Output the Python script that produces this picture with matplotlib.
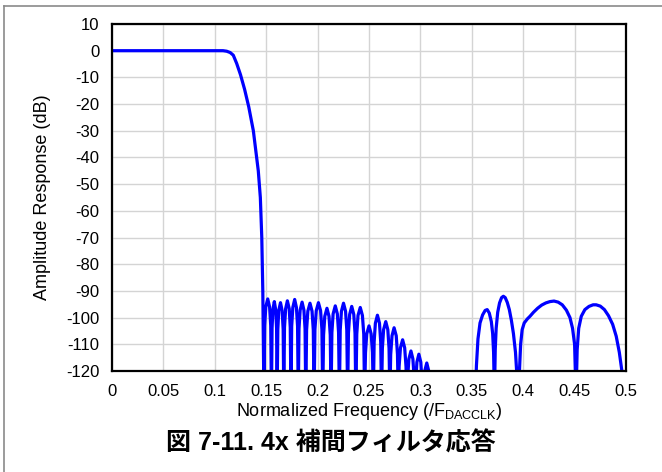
import matplotlib
matplotlib.use("Agg")
import matplotlib.pyplot as plt
from matplotlib.lines import Line2D

plt.rcParams['font.family'] = ['Liberation Sans', 'Noto Sans CJK JP']
plt.rcParams['mathtext.fontset'] = 'custom'
plt.rcParams['mathtext.rm'] = 'Liberation Sans'

# ---- data ----
# passband and transition band
pass_f = [0.0, 0.05, 0.10, 0.108, 0.1116, 0.115, 0.118, 0.1213, 0.1250, 0.1290,
          0.1330, 0.1375, 0.1423, 0.1443, 0.1457, 0.1467, 0.1478]
pass_db = [0, 0, 0, 0, -0.2, -0.7, -1.7, -4.8, -9.0, -14.5,
           -21.0, -30.0, -45.0, -55.0, -70.0, -90.0, -130.0]

# stopband side lobes, one row per lobe (nulls fall below the -120 dB floor)
stop_f = [
    0.1478, 0.1485, 0.1496, 0.1515, 0.1533, 0.1544,
    0.1551, 0.1557, 0.1565, 0.1579, 0.1592, 0.1601,
    0.1606, 0.1613, 0.1622, 0.1639, 0.1655, 0.1665,
    0.1671, 0.1678, 0.1689, 0.1706, 0.1724, 0.1734,
    0.1741, 0.1748, 0.1759, 0.1777, 0.1794, 0.1805,
    0.1812, 0.1819, 0.1830, 0.1849, 0.1867, 0.1878,
    0.1885, 0.1893, 0.1905, 0.1926, 0.1946, 0.1958,
    0.1966, 0.1974, 0.1987, 0.2008, 0.2029, 0.2042,
    0.2050, 0.2058, 0.2070, 0.2091, 0.2111, 0.2123,
    0.2131, 0.2139, 0.2151, 0.2172, 0.2192, 0.2204,
    0.2212, 0.2220, 0.2232, 0.2252, 0.2272, 0.2284,
    0.2292, 0.2300, 0.2312, 0.2332, 0.2352, 0.2364,
    0.2372, 0.2381, 0.2393, 0.2415, 0.2436, 0.2449,
    0.2457, 0.2466, 0.2478, 0.2500, 0.2521, 0.2534,
    0.2542, 0.2550, 0.2562, 0.2582, 0.2602, 0.2614,
    0.2622, 0.2630, 0.2642, 0.2663, 0.2683, 0.2695,
    0.2703, 0.2711, 0.2724, 0.2744, 0.2765, 0.2777,
    0.2785, 0.2793, 0.2806, 0.2827, 0.2847, 0.2860,
    0.2868, 0.2876, 0.2888, 0.2908, 0.2927, 0.2939,
    0.2947, 0.2955, 0.2966, 0.2985, 0.3004, 0.3015,
    0.3023, 0.3031, 0.3042, 0.3062, 0.3081, 0.3092,
    0.3100,
]
stop_db = [
    -130, -103.0, -96.0, -93.0, -96.0, -103.0,
    -130, -104.0, -97.0, -94.0, -97.0, -104.0,
    -130, -104.4, -97.4, -94.4, -97.4, -104.4,
    -130, -103.7, -96.7, -93.7, -96.7, -103.7,
    -130, -103.2, -96.2, -93.2, -96.2, -103.2,
    -130, -104.2, -97.2, -94.2, -97.2, -104.2,
    -130, -104.6, -97.6, -94.6, -97.6, -104.6,
    -130, -104.4, -97.4, -94.4, -97.4, -104.4,
    -130, -106.5, -99.5, -96.5, -99.5, -106.5,
    -130, -105.6, -98.6, -95.6, -98.6, -105.6,
    -130, -104.6, -97.6, -94.6, -97.6, -104.6,
    -130, -105.8, -98.8, -95.8, -98.8, -105.8,
    -130, -106.2, -99.2, -96.2, -99.2, -106.2,
    -130, -113.1, -106.1, -103.1, -106.1, -113.1,
    -130, -109.1, -102.1, -99.1, -102.1, -109.1,
    -130, -111.5, -104.5, -101.5, -104.5, -111.5,
    -130, -113.8, -106.8, -103.8, -106.8, -113.8,
    -130, -118.3, -111.3, -108.3, -111.3, -118.3,
    -130, -122.5, -115.5, -112.5, -115.5, -122.5,
    -130, -123.7, -116.7, -113.7, -116.7, -123.7,
    -130, -127.0, -120.0, -117.0, -120.0, -127.0,
    -130,
]

# high-frequency lobes
hi_f = [0.3300, 0.3535,
        0.3545, 0.3560, 0.3580, 0.3605, 0.3630, 0.3650, 0.3670, 0.3690, 0.3703, 0.3712, 0.3720,
        0.3728, 0.3737, 0.3752, 0.3770, 0.3790, 0.3807, 0.3825, 0.3845, 0.3865, 0.3885,
        0.3905, 0.3925, 0.3952,
        0.3975, 0.3990, 0.4010, 0.4040, 0.4066, 0.4100, 0.4140, 0.4180, 0.4220, 0.4260,
        0.4300, 0.4340, 0.4380, 0.4420, 0.4455, 0.4480, 0.4500, 0.4514,
        0.4525, 0.4540, 0.4565, 0.4600, 0.4640, 0.4680, 0.4710, 0.4750, 0.4790, 0.4830,
        0.4870, 0.4905, 0.4935, 0.4960, 0.4975]
hi_db = [-130, -130,
         -118.0, -108.0, -102.0, -99.0, -97.3, -97.0, -98.3, -101.5, -106.0, -113.0, -130,
         -112.0, -104.0, -98.0, -94.5, -92.5, -92.0, -92.5, -94.3, -97.0, -101.0,
         -106.0, -113.0, -130,
         -110.0, -104.5, -102.0, -100.5, -99.5, -98.0, -96.5, -95.3, -94.5, -94.0,
         -93.8, -94.2, -95.2, -97.2, -100.0, -104.0, -110.0, -130,
         -112.0, -104.0, -99.5, -97.0, -95.8, -95.2, -95.2, -95.7, -97.0, -99.3,
         -102.5, -107.0, -113.0, -120.0, -130]

x_ticks = [0, 0.05, 0.1, 0.15, 0.2, 0.25, 0.3, 0.35, 0.4, 0.45, 0.5]
x_labels = ['0', '0.05', '0.1', '0.15', '0.2', '0.25', '0.3', '0.35', '0.4', '0.45', '0.5']
y_ticks = list(range(10, -121, -10))

title = '図 7-11. 4x 補間フィルタ応答'
xlabel = 'Normalized Frequency (/F$_{\\mathregular{DACCLK}}$)'
ylabel = 'Amplitude Response (dB)'

# ---- figure ----
W, H = 662, 472
fig = plt.figure(figsize=(W / 100, H / 100), dpi=100)
ax = fig.add_axes([112 / W, 1 - 371 / H, (626 - 112) / W, (371 - 24) / H])

freq = pass_f + stop_f[1:] + hi_f
db = pass_db + stop_db[1:] + hi_db
ax.plot(freq, db, color='#0000ff', lw=2.3, solid_joinstyle='round', zorder=3)

ax.set_xlim(0, 0.5)
ax.set_ylim(-120, 10)
ax.set_xticks(x_ticks)
ax.set_xticklabels(x_labels)
ax.set_yticks(y_ticks)
ax.set_yticklabels([str(v) for v in y_ticks])
ax.tick_params(length=0, labelsize=12, colors='black')
ax.tick_params(axis='y', pad=9)
ax.tick_params(axis='x', pad=9)
ax.grid(True, color='#d4d4d4', lw=1.0)
ax.set_axisbelow(True)
for s in ax.spines.values():
    s.set_linewidth(1.6)
    s.set_color('black')
    s.set_zorder(4)

ax.set_xlabel(xlabel, fontsize=13)
ax.xaxis.set_label_coords(0.5, -0.086)
ax.set_ylabel(ylabel, fontsize=13)
ax.yaxis.set_label_coords(-0.118, 0.5)

fig.text(0.5, 1 - 443 / H, title, ha='center', va='center', fontsize=18, fontweight='bold')

# outer frame (top and left edges visible)
fig.add_artist(Line2D([4 / W, 1.0], [1 - 6 / H, 1 - 6 / H], color='#8a8a8a', lw=1.2,
                      transform=fig.transFigure))
fig.add_artist(Line2D([4 / W, 4 / W], [0.0, 1 - 6 / H], color='#8a8a8a', lw=1.2,
                      transform=fig.transFigure))

fig.savefig('out.png', dpi=100)
